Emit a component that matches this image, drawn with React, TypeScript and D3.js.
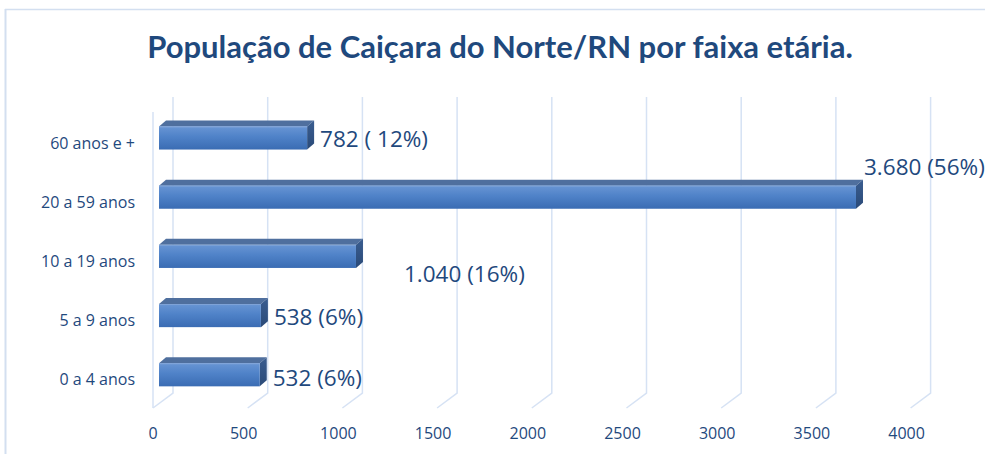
import React from "react";
import * as d3 from "d3";

const categories = ["60 anos e +", "20 a 59 anos", "10 a 19 anos", "5 a 9 anos", "0 a 4 anos"];
const values = [782, 3680, 1040, 538, 532];
const valueLabels = ["782 ( 12%)", "3.680 (56%)", "1.040 (16%)", "538 (6%)", "532 (6%)"];
const ticks = [0, 500, 1000, 1500, 2000, 2500, 3000, 3500, 4000];
const title = "População de Caiçara do Norte/RN por faixa etária.";

// label offsets relative to bar end / bar centre (layout, not data)
const labelOffsets: [number, number][] = [
  [13, 1],
  [8, -30],
  [48, 18],
  [13, 2],
  [13, 3],
];

const W = 985;
const H = 454;
const DEPTH_DX = 7;
const DEPTH_DY = -6;
const BACK_DX = 14;
const FRONT_DX = -6;
const BACK_BOTTOM = 393;
const FRONT_Y = 408;
const WALL_TOP = 97;

export default function App() {
  const x = d3.scaleLinear().domain([0, 4000]).range([159, 159 + 757.6]);
  const y = d3.scaleBand<string>().domain(categories).range([108.4, 404.4]).padding(0);
  const barH = y.step() * 0.39;
  const textColor = "#1F497D";
  const font = "'Open Sans', sans-serif";
  const gridColor = "#D6E2F4";

  return (
    <svg width={W} height={H} style={{ position: "absolute", left: 0, top: 0, background: "#fff" }}>
      <defs>
        <linearGradient id="frontGrad" x1="0" y1="0" x2="0" y2="1">
          <stop offset="0%" stopColor="#6895D4" />
          <stop offset="45%" stopColor="#4F82C8" />
          <stop offset="100%" stopColor="#3A6CB3" />
        </linearGradient>
        <linearGradient id="sideGrad" x1="0" y1="0" x2="0" y2="1">
          <stop offset="0%" stopColor="#3A5D90" />
          <stop offset="100%" stopColor="#2A4A78" />
        </linearGradient>
      </defs>
      <rect x={0} y={0} width={W} height={H} fill="#fff" />
      <line x1={5.5} y1={9} x2={5.5} y2={H} stroke="#D3DFF0" strokeWidth={2} />
      <line x1={5} y1={9.5} x2={W} y2={9.5} stroke="#D3DFF0" strokeWidth={1.5} />

      <text
        x={500}
        y={58}
        textAnchor="middle"
        fontFamily="Lato, sans-serif"
        fontWeight="bold"
        fontSize={31}
        fill={textColor}
      >
        {title}
      </text>

      <line x1={x(0) + FRONT_DX} y1={WALL_TOP + 15} x2={x(0) + FRONT_DX} y2={FRONT_Y} stroke={gridColor} strokeWidth={1.5} />

      {ticks.map((t) => (
        <polyline
          key={t}
          points={`${x(t) + BACK_DX},${WALL_TOP} ${x(t) + BACK_DX},${BACK_BOTTOM} ${x(t) + FRONT_DX},${FRONT_Y}`}
          fill="none"
          stroke={gridColor}
          strokeWidth={1.5}
        />
      ))}

      {ticks.map((t) => (
        <text
          key={"t" + t}
          x={x(t) + FRONT_DX - (t === 0 ? 0 : 4)}
          y={439}
          textAnchor="middle"
          fontFamily={font}
          fontSize={16}
          fill={textColor}
        >
          {t}
        </text>
      ))}

      {categories.map((c, i) => {
        const cy = (y(c) as number) + y.step() / 2;
        const top = cy - barH / 2;
        const x0 = x(0);
        const x1 = x(values[i]);
        const topFace = `${x0},${top} ${x0 + DEPTH_DX},${top + DEPTH_DY} ${x1 + DEPTH_DX},${top + DEPTH_DY} ${x1},${top}`;
        const sideFace = `${x1},${top} ${x1 + DEPTH_DX},${top + DEPTH_DY} ${x1 + DEPTH_DX},${top + barH + DEPTH_DY} ${x1},${top + barH}`;
        return (
          <g key={c}>
            <polygon points={topFace} fill="#4F6F9E" />
            <polygon points={sideFace} fill="url(#sideGrad)" />
            <rect x={x0} y={top} width={x1 - x0} height={barH} fill="url(#frontGrad)" />
            <line x1={x0} y1={top + 0.5} x2={x1} y2={top + 0.5} stroke="#7FA3D8" strokeWidth={1} />
          </g>
        );
      })}

      {categories.map((c) => {
        const cy = (y(c) as number) + y.step() / 2;
        return (
          <text
            key={"c" + c}
            x={135}
            y={cy + 5}
            dy="0.35em"
            textAnchor="end"
            fontFamily={font}
            fontSize={16}
            fill={textColor}
          >
            {c}
          </text>
        );
      })}

      {categories.map((c, i) => {
        const cy = (y(c) as number) + y.step() / 2;
        return (
          <text
            key={"v" + c}
            x={x(values[i]) + labelOffsets[i][0]}
            y={cy + labelOffsets[i][1]}
            dy="0.35em"
            fontFamily={font}
            fontSize={22.5}
            fill={textColor}
          >
            {valueLabels[i]}
          </text>
        );
      })}
    </svg>
  );
}
